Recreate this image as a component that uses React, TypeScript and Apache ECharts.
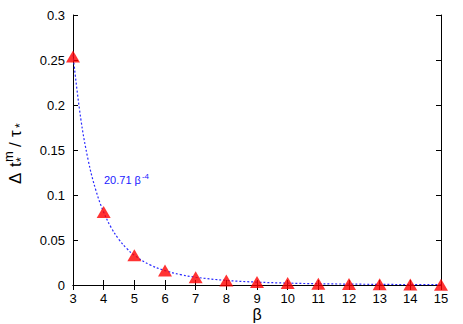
import React, { useEffect, useRef } from "react";
import * as echarts from "echarts";

const betaValues = [3, 4, 5, 6, 7, 8, 9, 10, 11, 12, 13, 14, 15];
const deltaValues = [0.254, 0.081, 0.033, 0.016, 0.0086, 0.0051, 0.0032, 0.0021, 0.0014, 0.001, 0.0007, 0.0005, 0.0004];

const fitBeta = [3, 3.25, 3.5, 3.75, 4, 4.25, 4.5, 4.75, 5, 5.5, 6, 6.5, 7, 8, 9, 10, 11, 12, 13, 14, 15];
const fitValues = [0.2557, 0.1856, 0.138, 0.1047, 0.0809, 0.0635, 0.0505, 0.0407, 0.0331, 0.0226, 0.016, 0.0116, 0.0086, 0.0051, 0.0032, 0.0021, 0.0014, 0.001, 0.0007, 0.0005, 0.0004];

const xTicks = ["3", "4", "5", "6", "7", "8", "9", "10", "11", "12", "13", "14", "15"];
const yTicks = ["0", "0.05", "0.1", "0.15", "0.2", "0.25", "0.3"];

const FONT = "Liberation Sans, Arial, sans-serif";

export default function App() {
  const ref = useRef<HTMLDivElement>(null);
  useEffect(() => {
    const chart = echarts.init(ref.current!, null, { renderer: "svg" });
    const axisCommon = {
      axisLine: { show: true, lineStyle: { color: "#000", width: 1 } },
      axisTick: { show: true, inside: true, length: 5, lineStyle: { color: "#000" } },
      splitLine: { show: false },
    };
    chart.setOption({
      animation: false,
      backgroundColor: "#fff",
      grid: { left: 73, right: 22, top: 15, bottom: 39, containLabel: false, outerBoundsMode: "none" },
      xAxis: [
        {
          type: "value",
          min: 3,
          max: 15,
          interval: 1,
          position: "bottom",
          ...axisCommon,
          axisLabel: {
            color: "#000",
            fontFamily: FONT,
            fontSize: 13,
            margin: 7,
            formatter: (v: number) => xTicks[Math.round(v) - 3] ?? "",
          },
          name: "β",
          nameLocation: "middle",
          nameGap: 21,
          nameMoveOverlap: false,
          nameTextStyle: { color: "#000", fontFamily: FONT, fontSize: 16, lineHeight: 16, verticalAlign: "top" },
        },
        {
          type: "value",
          min: 3,
          max: 15,
          interval: 1,
          position: "top",
          ...axisCommon,
          axisLabel: { show: false },
        },
      ],
      yAxis: [
        {
          type: "value",
          min: 0,
          max: 0.3,
          interval: 0.05,
          position: "left",
          ...axisCommon,
          axisLabel: {
            color: "#000",
            fontFamily: FONT,
            fontSize: 13,
            margin: 8,
            formatter: (v: number) => yTicks[Math.round(v / 0.05)] ?? "",
          },
        },
        {
          type: "value",
          min: 0,
          max: 0.3,
          interval: 0.05,
          position: "right",
          ...axisCommon,
          axisLabel: { show: false },
        },
      ],
      series: [
        {
          type: "line",
          data: fitBeta.map((b, i) => [b, fitValues[i]]),
          smooth: 0.4,
          showSymbol: false,
          symbol: "none",
          lineStyle: { color: "#2a2aff", width: 1.2, type: [2, 2] },
          z: 2,
        },
        {
          type: "scatter",
          data: betaValues.map((b, i) => [b, deltaValues[i]]),
          symbol: "triangle",
          symbolSize: [14, 12],
          itemStyle: { color: "#ff0000" },
          z: 3,
        },
      ],
      graphic: [
        {
          type: "text",
          left: 104,
          top: 172,
          style: {
            text: "20.71 β{s|-4}",
            fill: "#1a1aff",
            font: `11px ${FONT}`,
            rich: {
              s: { fontSize: 8, verticalAlign: "top", padding: [0, 0, 7, 1], fill: "#1a1aff" },
            },
          },
        },
        {
          type: "group",
          x: 15,
          y: 152,
          rotation: Math.PI / 2,
          children: [
            { type: "text", x: -32, y: 0, style: { text: "Δ", font: `17px ${FONT}`, fill: "#000", verticalAlign: "middle" } },
            { type: "text", x: -15, y: 0, style: { text: "t", font: `17px ${FONT}`, fill: "#000", verticalAlign: "middle" } },
            { type: "text", x: -10, y: -7, style: { text: "m", font: `13px ${FONT}`, fill: "#000", verticalAlign: "middle" } },
            { type: "text", x: -10, y: 6, style: { text: "*", font: `12px ${FONT}`, fill: "#000", verticalAlign: "middle" } },
            { type: "text", x: 5, y: 0, style: { text: "/", font: `17px ${FONT}`, fill: "#000", verticalAlign: "middle" } },
            { type: "text", x: 15, y: 0, style: { text: "τ", font: `17px ${FONT}`, fill: "#000", verticalAlign: "middle" } },
            { type: "text", x: 24, y: 5, style: { text: "*", font: `12px ${FONT}`, fill: "#000", verticalAlign: "middle" } },
          ],
        },
      ],
    });
    return () => chart.dispose();
  }, []);
  return <div ref={ref} style={{ position: "fixed", left: 0, top: 0, width: 463, height: 324 }} />;
}
